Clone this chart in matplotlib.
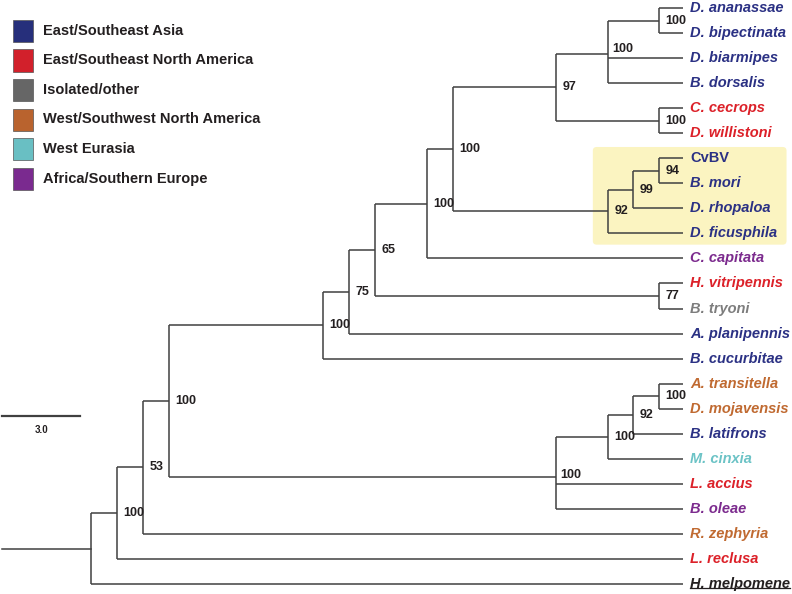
import matplotlib
matplotlib.use("Agg")
import matplotlib.pyplot as plt
from matplotlib.patches import Rectangle, FancyBboxPatch
from matplotlib.lines import Line2D

plt.rcParams['font.family'] = ['Liberation Sans', 'DejaVu Sans']

# leaves, top to bottom
taxa = ["D. ananassae", "D. bipectinata", "D. biarmipes", "B. dorsalis",
        "C. cecrops", "D. willistoni", "CvBV", "B. mori", "D. rhopaloa",
        "D. ficusphila", "C. capitata", "H. vitripennis", "B. tryoni",
        "A. planipennis", "B. cucurbitae", "A. transitella", "D. mojavensis",
        "B. latifrons", "M. cinxia", "L. accius", "B. oleae", "R. zephyria",
        "L. reclusa", "H. melpomene"]
taxon_region = ["ESA", "ESA", "ESA", "ESA", "ENA", "ENA", "ESA", "ESA", "ESA",
                "ESA", "AFR", "ENA", "ISO", "ESA", "ESA", "WNA", "WNA", "ESA",
                "WEU", "ENA", "AFR", "WNA", "ENA", "OUT"]
leaf_depth = 22.77

# internal nodes: children, depth (tree units), bootstrap support
node_names = ["n_ab", "n_abbd", "n_cw", "n97", "n94", "n99", "n92", "n_top",
              "n_cap", "n77", "n65", "n75", "n_cuc", "n_tm", "n_lat", "n_cin",
              "n_low", "n_big", "n53", "n_rec", "root"]
node_children = [["D. ananassae", "D. bipectinata"],
                 ["n_ab", "D. biarmipes", "B. dorsalis"],
                 ["C. cecrops", "D. willistoni"],
                 ["n_abbd", "n_cw"],
                 ["CvBV", "B. mori"],
                 ["n94", "D. rhopaloa"],
                 ["n99", "D. ficusphila"],
                 ["n97", "n92"],
                 ["n_top", "C. capitata"],
                 ["H. vitripennis", "B. tryoni"],
                 ["n_cap", "n77"],
                 ["n65", "A. planipennis"],
                 ["n75", "B. cucurbitae"],
                 ["A. transitella", "D. mojavensis"],
                 ["n_tm", "B. latifrons"],
                 ["n_lat", "M. cinxia"],
                 ["n_cin", "L. accius", "B. oleae"],
                 ["n_cuc", "n_low"],
                 ["n_big", "R. zephyria"],
                 ["n53", "L. reclusa"],
                 ["n_rec", "H. melpomene"]]
node_depth = [21.85, 19.88, 21.85, 17.88, 21.85, 20.85, 19.88, 13.92,
              12.92, 21.85, 10.92, 9.92, 8.92, 21.85, 20.85, 19.88,
              17.88, 3.0, 2.0, 1.0, 0.0]
node_support = [100, 100, 100, 97, 94, 99, 92, 100, 100, 77, 65, 75, 100,
                100, 92, 100, 100, 100, 53, 100, None]

region_names = ["East/Southeast Asia", "East/Southeast North America",
                "Isolated/other", "West/Southwest North America",
                "West Eurasia", "Africa/Southern Europe"]
region_keys = ["ESA", "ENA", "ISO", "WNA", "WEU", "AFR"]
swatch_colors = ["#262f7b", "#d2202b", "#666666", "#b9632e", "#69bfc3", "#7a2a8f"]
text_colors = {"ESA": "#2b3184", "ENA": "#dc2129", "ISO": "#7d7d7d",
               "WNA": "#c06a31", "WEU": "#6cc3c6", "AFR": "#7c2b8e", "OUT": "#231f20"}

scale_len = 3.0
highlight = ["CvBV", "B. mori", "D. rhopaloa", "D. ficusphila"]

line_c = "#404040"
lw = 1.1

fig = plt.figure(figsize=(7.92, 5.94), dpi=100)
ax = fig.add_axes([0, 0, 1, 1])
ax.set_xlim(-3.5, 26.96)
ax.set_ylim(23.4, -0.32)
ax.axis('off')

ypos = {name: i for i, name in enumerate(taxa)}
xpos = {name: leaf_depth for name in taxa}
for name, ch, d in zip(node_names, node_children, node_depth):
    ypos[name] = sum(ypos[c] for c in ch) / len(ch)
    xpos[name] = d

# highlight box
hy = [ypos[n] for n in highlight]
box = FancyBboxPatch((19.3, min(hy) - 0.45), 7.45, max(hy) - min(hy) + 0.9,
                     boxstyle="round,pad=0,rounding_size=0.15",
                     fc="#fbf4c1", ec="none", zorder=0)
ax.add_patch(box)

# branches
for name, ch, sup in zip(node_names, node_children, node_support):
    x = xpos[name]
    ys = [ypos[c] for c in ch]
    ax.plot([x, x], [min(ys), max(ys)], color=line_c, lw=lw, solid_capstyle='butt')
    for c in ch:
        ax.plot([x, xpos[c]], [ypos[c], ypos[c]], color=line_c, lw=lw,
                solid_capstyle='butt')
    if sup is not None:
        if len(ch) == 3:
            ax.text(x + 0.17, ypos[ch[1]] - 0.12, str(sup), fontsize=9,
                    fontweight='bold', color="#231f20", ha='left', va='bottom')
        else:
            ax.text(x + 0.25, ypos[name], str(sup), fontsize=9,
                    fontweight='bold', color="#231f20", ha='left', va='center')

# root stub
ax.plot([-3.42, 0], [ypos["root"]] * 2, color=line_c, lw=lw)

# leaf labels
under = None
for name, reg in zip(taxa, taxon_region):
    style = 'normal' if name == "CvBV" else 'italic'
    t = ax.text(leaf_depth + 0.27, ypos[name], name, fontsize=10.5,
                fontweight='bold', fontstyle=style, color=text_colors[reg],
                ha='left', va='center')
    if reg == "OUT":
        under = t

# scale bar
ax.plot([-3.42, -3.42 + scale_len], [16.3, 16.3], color=line_c, lw=1.6)
ax.text(-3.42 + scale_len / 2, 16.85, "%.1f" % scale_len, fontsize=7,
        fontweight='bold', color="#231f20", ha='center', va='center')

# legend
W, H = 792.0, 594.0
for i, (lab, col) in enumerate(zip(region_names, swatch_colors)):
    yc = 31 + i * 29.5
    fig.add_artist(Rectangle((13 / W, 1 - (yc + 11) / H), 20 / W, 22 / H,
                             fc=col, ec="#555555", lw=0.5,
                             transform=fig.transFigure))
    fig.text(43 / W, 1 - yc / H, lab, fontsize=10.5, fontweight='bold',
             color="#231f20", ha='left', va='center')

# underline for outgroup
fig.canvas.draw()
bb = under.get_window_extent(fig.canvas.get_renderer())
uy = (bb.y0 + 2.5) / H
fig.add_artist(Line2D([bb.x0 / W, bb.x1 / W], [uy, uy], color="#231f20",
                      lw=0.9, transform=fig.transFigure))

fig.savefig("out.png", dpi=100)
